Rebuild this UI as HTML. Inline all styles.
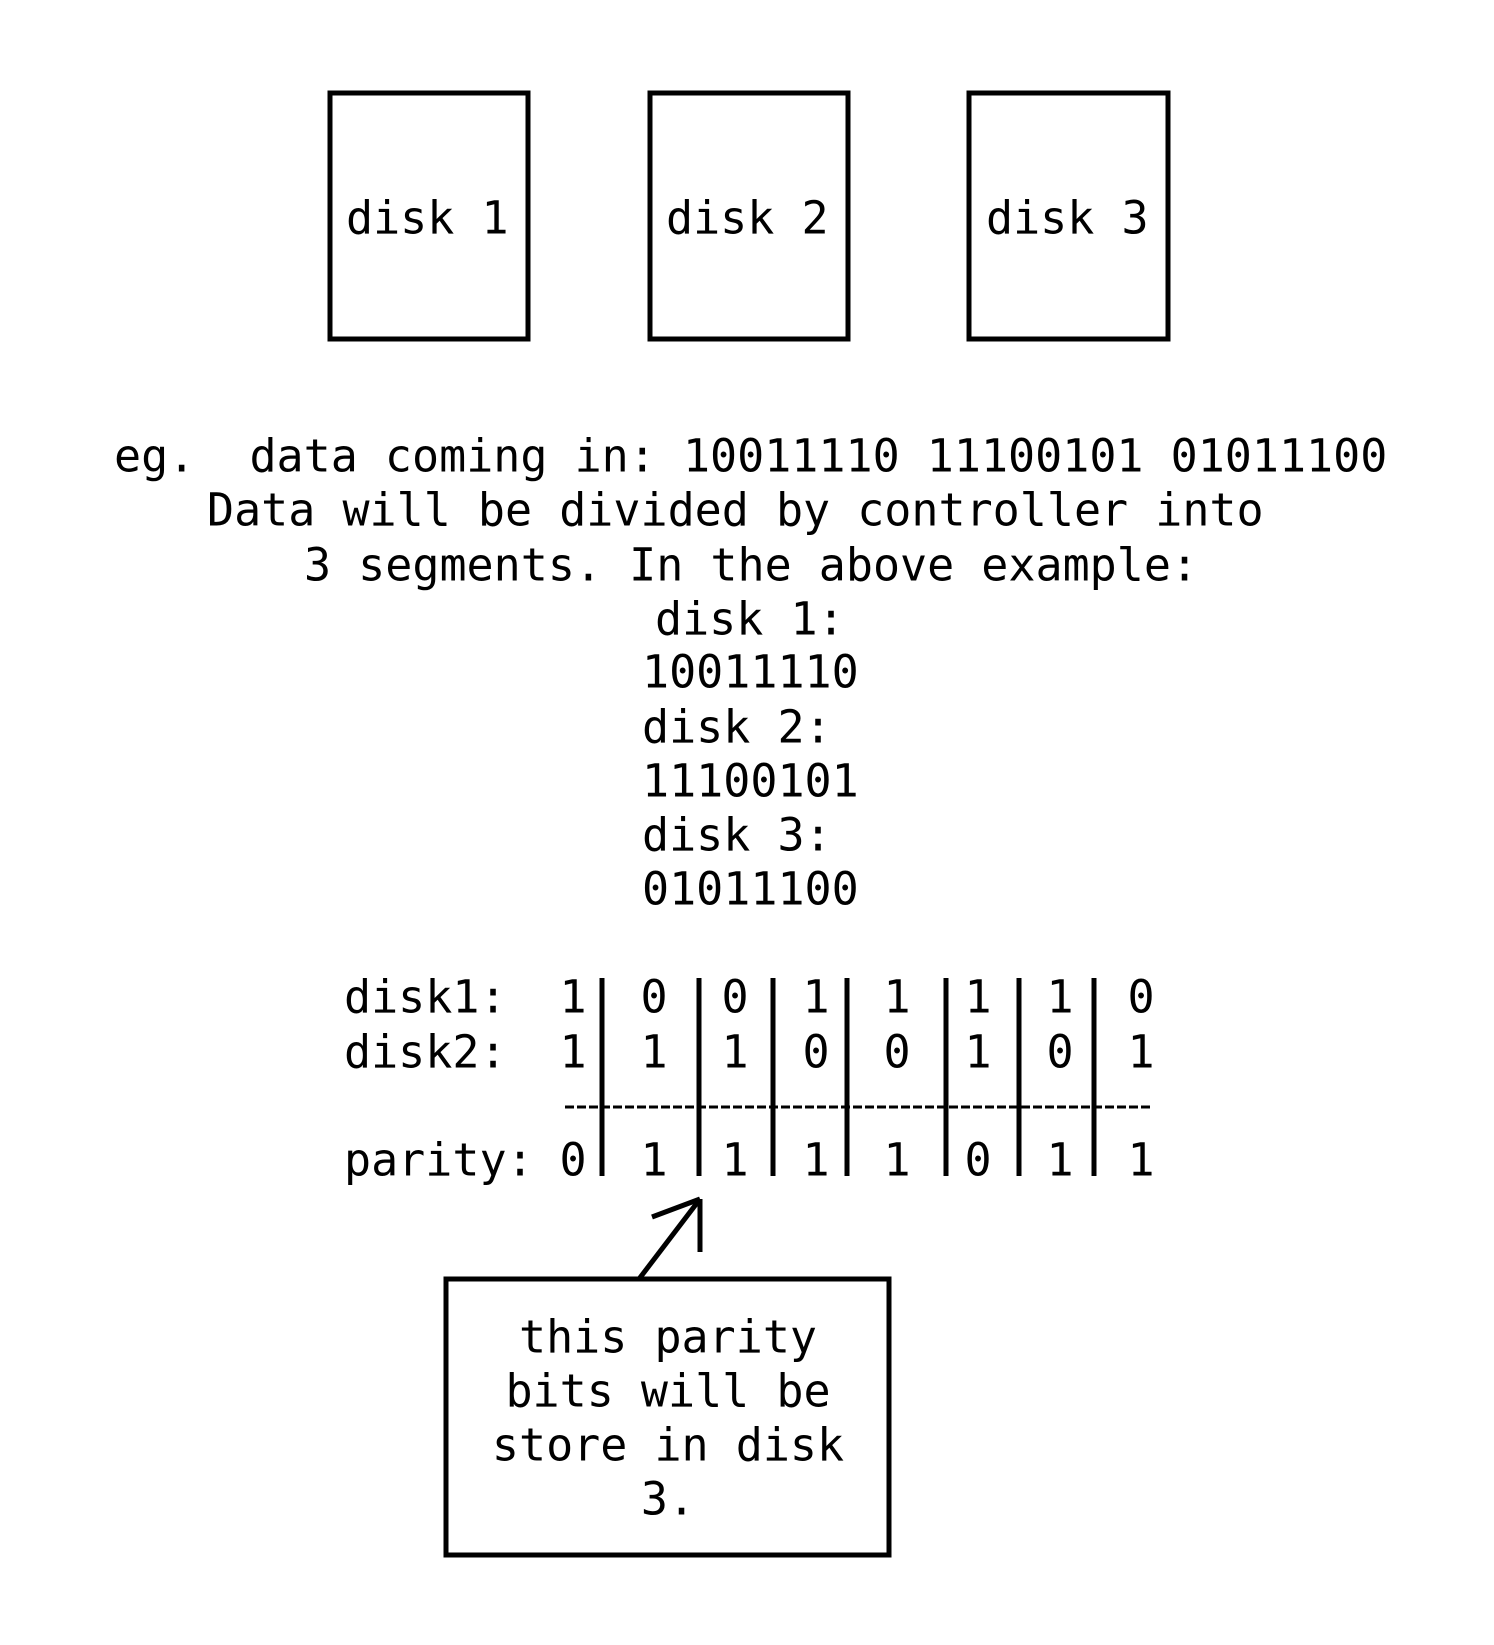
<!DOCTYPE html>
<html><head><style>html,body{margin:0;padding:0;background:#fff}svg{display:block}text{white-space:pre}</style></head>
<body>
<svg width="1494" height="1645" viewBox="0 0 1494 1645" xmlns="http://www.w3.org/2000/svg">
<g fill="none" stroke="#000" stroke-width="5">
<rect x="330" y="93" width="198" height="246"/>
<rect x="650" y="93" width="198" height="246"/>
<rect x="969" y="93" width="199" height="246"/>
<rect x="446" y="1279" width="443" height="276"/>
<line x1="602" y1="978" x2="602" y2="1176"/>
<line x1="699" y1="978" x2="699" y2="1176"/>
<line x1="773" y1="978" x2="773" y2="1176"/>
<line x1="847" y1="978" x2="847" y2="1176"/>
<line x1="946" y1="978" x2="946" y2="1176"/>
<line x1="1019" y1="978" x2="1019" y2="1176"/>
<line x1="1094" y1="978" x2="1094" y2="1176"/>
<line x1="639" y1="1279" x2="700" y2="1199"/>
<line x1="700" y1="1199" x2="700" y2="1252"/>
<line x1="700" y1="1199" x2="652" y2="1217"/>
<line x1="565" y1="1107" x2="1150" y2="1107" stroke-width="3" stroke-dasharray="9,3"/>
</g>
<g font-family="'DejaVu Sans Mono','Liberation Mono',monospace" font-size="45" fill="#000" dominant-baseline="central">
<text x="346" y="218">disk 1</text>
<text x="666" y="218">disk 2</text>
<text x="986" y="218">disk 3</text>
<text x="114" y="456">eg.&#160; data coming in: 10011110 11100101 01011100</text>
<text x="207" y="510">Data will be divided by controller into</text>
<text x="304" y="565">3 segments. In the above example:</text>
<text x="655" y="619">disk 1:</text>
<text x="642" y="672">10011110</text>
<text x="642" y="727">disk 2:</text>
<text x="642" y="781">11100101</text>
<text x="642" y="835">disk 3:</text>
<text x="642" y="889">01011100</text>
<text x="344" y="997">disk1:</text>
<text x="344" y="1052">disk2:</text>
<text x="344" y="1160">parity:</text>
<g text-anchor="middle">
<text x="573" y="997">1</text><text x="654" y="997">0</text><text x="735" y="997">0</text><text x="816" y="997">1</text><text x="897" y="997">1</text><text x="978" y="997">1</text><text x="1060" y="997">1</text><text x="1141" y="997">0</text>
<text x="573" y="1052">1</text><text x="654" y="1052">1</text><text x="735" y="1052">1</text><text x="816" y="1052">0</text><text x="897" y="1052">0</text><text x="978" y="1052">1</text><text x="1060" y="1052">0</text><text x="1141" y="1052">1</text>
<text x="573" y="1160">0</text><text x="654" y="1160">1</text><text x="735" y="1160">1</text><text x="816" y="1160">1</text><text x="897" y="1160">1</text><text x="978" y="1160">0</text><text x="1060" y="1160">1</text><text x="1141" y="1160">1</text>
<text x="668" y="1337">this parity</text>
<text x="668" y="1391">bits will be</text>
<text x="668" y="1445">store in disk</text>
<text x="668" y="1499">3.</text>
</g>
</g>
</svg>
</body></html>
